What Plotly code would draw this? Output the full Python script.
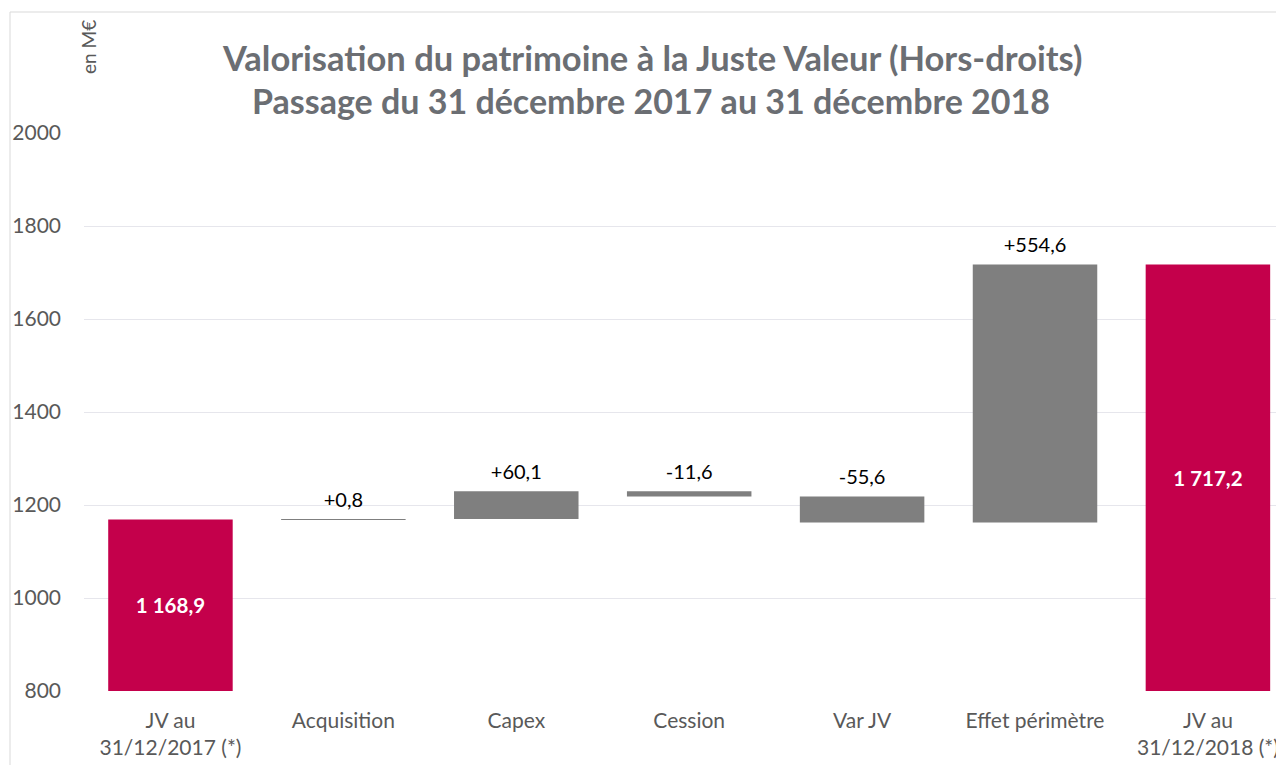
import plotly.graph_objects as go

categories = ["JV au<br>31/12/2017 (*)", "Acquisition", "Capex", "Cession", "Var JV",
              "Effet périmètre", "JV au<br>31/12/2018 (*)"]
start_value = 1168.9
deltas = [0.8, 60.1, -11.6, -55.6, 554.6]
end_value = 1717.2
y_min, y_max = 800, 2000
y_ticks = [800, 1000, 1200, 1400, 1600, 1800, 2000]

RED = "#C4004B"
GREY = "#7F7F7F"
FONT = "Lato"

# page offset (body margin) compensation
OFF = 8
W, H = 1284 - OFF, 765 - OFF
PL, PT, PB = 84 - OFF, 133 - OFF, 691 - OFF   # plot left/top/bottom in figure px
PW, PH = W - PL, PB - PT


def px_x(page_x):
    return (page_x - OFF - PL) / PW


def px_y(page_y):
    return (PB - (page_y - OFF)) / PH


def fr(v, sign=False):
    s = f"{abs(v):,.1f}".replace(",", " ").replace(".", ",")
    if sign:
        return ("+" if v >= 0 else "-") + s
    return s


bases, heights, tops = [], [], []
running = start_value
for d in deltas:
    lo = min(running, running + d)
    hi = max(running, running + d)
    bases.append(lo)
    heights.append(hi - lo)
    tops.append(hi)
    running += d

fig = go.Figure()

fig.add_trace(go.Bar(
    x=[categories[0], categories[-1]],
    y=[start_value - y_min, end_value - y_min],
    base=[y_min, y_min],
    marker=dict(color=RED, line=dict(width=0)),
    text=[fr(start_value), fr(end_value)],
    textposition="inside",
    insidetextanchor="middle",
    textfont=dict(family=FONT, size=20.5, color="white", weight="bold"),
    hoverinfo="skip",
))

fig.add_trace(go.Bar(
    x=categories[1:-1],
    y=heights,
    base=bases,
    marker=dict(color=GREY, line=dict(width=0)),
    hoverinfo="skip",
))

fig.add_trace(go.Scatter(
    x=categories[1:-1],
    y=tops,
    mode="markers+text",
    marker=dict(size=10, color="rgba(0,0,0,0)"),
    text=[fr(d, sign=True) for d in deltas],
    textposition="top center",
    textfont=dict(family=FONT, size=20, color="#000000"),
    hoverinfo="skip",
    cliponaxis=False,
))

fig.update_layout(
    width=W, height=H,
    margin=dict(l=PL, r=0, t=PT, b=H - PB),
    paper_bgcolor="white", plot_bgcolor="white",
    showlegend=False,
    bargap=0.28,
    barmode="overlay",
    xaxis=dict(
        type="category",
        categoryorder="array", categoryarray=categories,
        range=[-0.5, 6.44],
        showgrid=False, showline=False, zeroline=False,
        ticks="", ticklabelstandoff=15,
        tickfont=dict(family=FONT, size=21, color="#595959"),
    ),
    yaxis=dict(
        range=[y_min, y_max],
        tickvals=y_ticks,
        showgrid=True, gridcolor="#E6E6EC", gridwidth=1,
        showline=False, zeroline=False,
        ticks="", ticklabelstandoff=22,
        tickfont=dict(family=FONT, size=21, color="#595959"),
    ),
    shapes=[dict(
        type="rect", xref="paper", yref="paper",
        x0=px_x(10), x1=1.01,
        y0=-0.3, y1=px_y(12),
        line=dict(color="#D9D9D9", width=1), fillcolor="rgba(0,0,0,0)",
        layer="below",
    )],
    annotations=[
        dict(text="Valorisation du patrimoine à la Juste Valeur (Hors-droits)",
             xref="paper", yref="paper", x=px_x(652), y=px_y(57),
             xanchor="center", yanchor="middle", showarrow=False,
             font=dict(family=FONT, size=34.5, color="#6B6E73", weight="bold")),
        dict(text="Passage du 31 décembre 2017 au 31 décembre 2018",
             xref="paper", yref="paper", x=px_x(651), y=px_y(100),
             xanchor="center", yanchor="middle", showarrow=False,
             font=dict(family=FONT, size=34, color="#6B6E73", weight="bold")),
        dict(text="en M€", textangle=-90,
             xref="paper", yref="paper", x=px_x(88), y=px_y(47),
             xanchor="center", yanchor="middle", showarrow=False,
             font=dict(family=FONT, size=19, color="#595959")),
    ],
)

fig.write_html("out.html")
